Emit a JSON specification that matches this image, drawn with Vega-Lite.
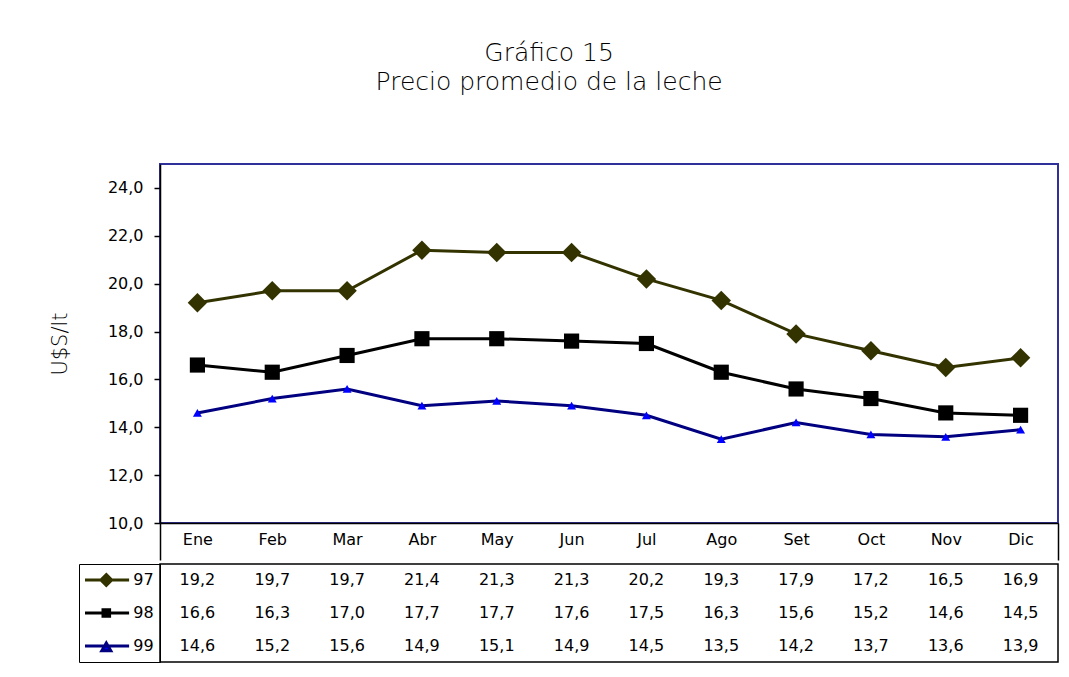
{
  "$schema": "https://vega.github.io/schema/vega-lite/v6.json",
  "background": "white",
  "padding": {"left": 48, "top": 41, "right": 5, "bottom": 5},
  "title": {
    "text": ["Gráfico 15", "Precio promedio de la leche"],
    "font": "DejaVu Sans",
    "fontSize": 25,
    "fontWeight": 200,
    "lineHeight": 29,
    "color": "black",
    "anchor": "middle",
    "offset": 68,
    "dx": -5
  },
  "datasets": {
    "leche": [
      {"mes": "Ene", "serie": "97", "v": 19.2},
      {"mes": "Feb", "serie": "97", "v": 19.7},
      {"mes": "Mar", "serie": "97", "v": 19.7},
      {"mes": "Abr", "serie": "97", "v": 21.4},
      {"mes": "May", "serie": "97", "v": 21.3},
      {"mes": "Jun", "serie": "97", "v": 21.3},
      {"mes": "Jul", "serie": "97", "v": 20.2},
      {"mes": "Ago", "serie": "97", "v": 19.3},
      {"mes": "Set", "serie": "97", "v": 17.9},
      {"mes": "Oct", "serie": "97", "v": 17.2},
      {"mes": "Nov", "serie": "97", "v": 16.5},
      {"mes": "Dic", "serie": "97", "v": 16.9},
      {"mes": "Ene", "serie": "98", "v": 16.6},
      {"mes": "Feb", "serie": "98", "v": 16.3},
      {"mes": "Mar", "serie": "98", "v": 17.0},
      {"mes": "Abr", "serie": "98", "v": 17.7},
      {"mes": "May", "serie": "98", "v": 17.7},
      {"mes": "Jun", "serie": "98", "v": 17.6},
      {"mes": "Jul", "serie": "98", "v": 17.5},
      {"mes": "Ago", "serie": "98", "v": 16.3},
      {"mes": "Set", "serie": "98", "v": 15.6},
      {"mes": "Oct", "serie": "98", "v": 15.2},
      {"mes": "Nov", "serie": "98", "v": 14.6},
      {"mes": "Dic", "serie": "98", "v": 14.5},
      {"mes": "Ene", "serie": "99", "v": 14.6},
      {"mes": "Feb", "serie": "99", "v": 15.2},
      {"mes": "Mar", "serie": "99", "v": 15.6},
      {"mes": "Abr", "serie": "99", "v": 14.9},
      {"mes": "May", "serie": "99", "v": 15.1},
      {"mes": "Jun", "serie": "99", "v": 14.9},
      {"mes": "Jul", "serie": "99", "v": 14.5},
      {"mes": "Ago", "serie": "99", "v": 13.5},
      {"mes": "Set", "serie": "99", "v": 14.2},
      {"mes": "Oct", "serie": "99", "v": 13.7},
      {"mes": "Nov", "serie": "99", "v": 13.6},
      {"mes": "Dic", "serie": "99", "v": 13.9}
    ]
  },
  "spacing": 0,
  "vconcat": [
    {
      "width": 898,
      "height": 359,
      "view": {"stroke": "#30309a", "strokeWidth": 2},
      "data": {"name": "leche"},
      "encoding": {
        "x": {
          "field": "mes",
          "type": "nominal",
          "sort": ["Ene", "Feb", "Mar", "Abr", "May", "Jun", "Jul", "Ago", "Set", "Oct", "Nov", "Dic"],
          "scale": {"paddingInner": 0, "paddingOuter": 0},
          "axis": {
            "title": null,
            "labelAngle": 0,
            "labelFont": "DejaVu Sans",
            "labelFontSize": 16,
            "labelColor": "black",
            "labelPadding": -29,
            "labelOverlap": false,
            "tickBand": "extent",
            "tickSize": 37,
            "tickWidth": 1.5,
            "tickColor": {"condition": {"test": "datum.value === 'Dic' || !!datum.extra", "value": "black"}, "value": "rgba(0,0,0,0)"},
            "domainColor": "black",
            "domainWidth": 1.5,
            "grid": false
          }
        },
        "y": {
          "field": "v",
          "type": "quantitative",
          "scale": {"domain": [10, 25], "nice": false, "zero": false},
          "axis": {
            "values": [10, 12, 14, 16, 18, 20, 22, 24],
            "format": ".1f",
            "title": "U$S/lt",
            "titleFont": "DejaVu Sans",
            "titleFontSize": 21,
            "titleFontWeight": 200,
            "titleColor": "black",
            "titlePadding": 37,
            "labelFont": "DejaVu Sans",
            "labelFontSize": 16,
            "labelColor": "black",
            "labelPadding": 11,
            "tickSize": 6,
            "tickColor": "black",
            "tickWidth": 1.5,
            "domainColor": "black",
            "domainWidth": 1.5,
            "grid": false
          }
        }
      },
      "layer": [
        {
          "mark": {"type": "line", "strokeWidth": 3},
          "encoding": {
            "stroke": {
              "field": "serie",
              "type": "nominal",
              "scale": {"domain": ["97", "98", "99"], "range": ["#333300", "#000000", "#000080"]},
              "legend": null
            }
          }
        },
        {
          "mark": {"type": "point", "filled": true, "opacity": 1, "strokeWidth": 0},
          "encoding": {
            "shape": {
              "field": "serie",
              "type": "nominal",
              "scale": {"domain": ["97", "98", "99"], "range": ["diamond", "square", "triangle-up"]},
              "legend": null
            },
            "fill": {
              "field": "serie",
              "type": "nominal",
              "scale": {"domain": ["97", "98", "99"], "range": ["#333300", "#000000", "#0000ff"]},
              "legend": null
            },
            "size": {
              "field": "serie",
              "type": "nominal",
              "scale": {"domain": ["97", "98", "99"], "range": [380, 80, 100]},
              "legend": null
            }
          }
        }
      ]
    },
    {
      "width": 898,
      "height": 98,
      "view": {"stroke": "black", "strokeWidth": 1.5},
      "data": {"name": "leche"},
      "encoding": {
        "x": {
          "field": "mes",
          "type": "nominal",
          "sort": ["Ene", "Feb", "Mar", "Abr", "May", "Jun", "Jul", "Ago", "Set", "Oct", "Nov", "Dic"],
          "scale": {"paddingInner": 0, "paddingOuter": 0},
          "axis": null
        },
        "y": {
          "field": "serie",
          "type": "nominal",
          "scale": {"domain": ["97", "98", "99"], "paddingInner": 0, "paddingOuter": 0},
          "axis": null
        }
      },
      "layer": [
        {
          "mark": {"type": "text", "font": "DejaVu Sans", "fontSize": 16, "color": "black"},
          "encoding": {
            "text": {"field": "v", "type": "quantitative", "format": ".1f"}
          }
        },
        {
          "mark": {"type": "point", "opacity": 0, "filled": true},
          "encoding": {
            "shape": {
              "field": "serie",
              "type": "nominal",
              "scale": {
                "domain": ["97", "98", "99"],
                "range": [
                  "M-3.8,0H3.8M0,-0.9L0.9,0L0,0.9L-0.9,0Z",
                  "M-3.8,0H3.8M-0.55,-0.55H0.55V0.55H-0.55Z",
                  "M-3.8,0H3.8M0,-0.5L0.75,0.8H-0.75Z"
                ]
              },
              "legend": {"orient": "left", "title": null, "offset": 0, "padding": 6, "strokeColor": "black", "symbolSize": 144, "symbolStrokeWidth": 3, "symbolOpacity": 1, "symbolOffset": 13.3, "labelOffset": 19, "labelFont": "DejaVu Sans", "labelFontSize": 16, "labelColor": "black", "rowPadding": 13, "clipHeight": 20}
            },
            "fill": {
              "field": "serie",
              "type": "nominal",
              "scale": {"domain": ["97", "98", "99"], "range": ["#333300", "#000000", "#0000ff"]},
              "legend": {"orient": "left", "title": null, "offset": 0, "padding": 6, "strokeColor": "black", "symbolSize": 144, "symbolStrokeWidth": 3, "symbolOpacity": 1, "symbolOffset": 13.3, "labelOffset": 19, "labelFont": "DejaVu Sans", "labelFontSize": 16, "labelColor": "black", "rowPadding": 13, "clipHeight": 20}
            },
            "stroke": {
              "field": "serie",
              "type": "nominal",
              "scale": {"domain": ["97", "98", "99"], "range": ["#333300", "#000000", "#000080"]},
              "legend": {"orient": "left", "title": null, "offset": 0, "padding": 6, "strokeColor": "black", "symbolSize": 144, "symbolStrokeWidth": 3, "symbolOpacity": 1, "symbolOffset": 13.3, "labelOffset": 19, "labelFont": "DejaVu Sans", "labelFontSize": 16, "labelColor": "black", "rowPadding": 13, "clipHeight": 20}
            }
          }
        }
      ]
    }
  ],
  "resolve": {
    "scale": {"x": "independent", "y": "independent", "shape": "independent", "fill": "independent", "stroke": "independent", "size": "independent"},
    "legend": {"shape": "independent", "fill": "independent", "stroke": "independent"}
  },
  "config": {
    "font": "DejaVu Sans",
    "locale": {"number": {"decimal": ",", "thousands": ".", "grouping": [3], "currency": ["", " €"]}}
  }
}
